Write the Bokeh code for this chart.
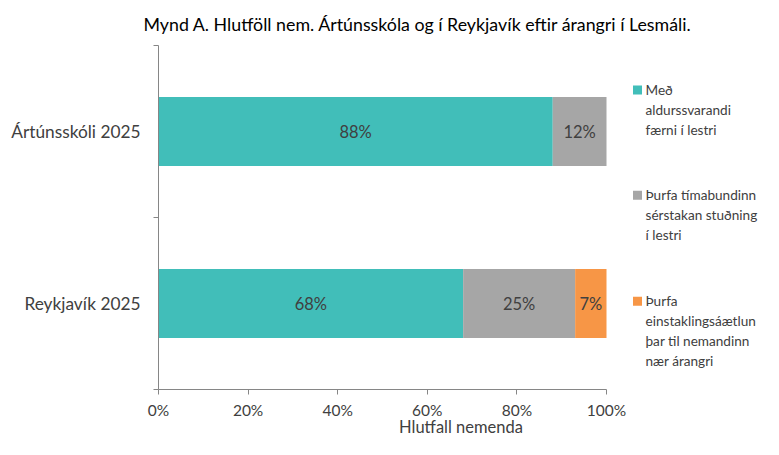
from bokeh.plotting import figure
from bokeh.models import ColumnDataSource, Range1d, FixedTicker, PrintfTickFormatter
from bokeh.core.properties import value
from bokeh.embed import file_html
from bokeh.resources import INLINE

# ---- data ----
title_text = "Mynd A. Hlutföll nem. Ártúnsskóla og í Reykjavík eftir árangri í Lesmáli."
categories = ["Ártúnsskóli 2025", "Reykjavík 2025"]
series_names = [
    "Með\naldurssvarandi\nfærni í lestri",
    "Þurfa tímabundinn\nsérstakan stuðning\ní lestri",
    "Þurfa\neinstaklingsáætlun\nþar til nemandinn\nnær árangri",
]
with_skills = [88, 68]
temporary_support = [12, 25]
individual_plan = [0, 7]
x_ticks = [0, 20, 40, 60, 80, 100]
x_label = "Hlutfall nemenda"
colors = ["#41BEB9", "#A6A6A6", "#F79646"]

FONT = "Lato"
TEXT = "#404040"
AXIS = "#868686"

# ---- layout (pixels) ----
W, H = 763, 439
LEFT, TOP = 158, 42
FRAME_W = 448                      # 0..100 %
FRAME_H = 347                      # 0..2 categories
BOTTOM = H - TOP - FRAME_H
PX_X = FRAME_W / 100.0
PX_Y = FRAME_H / 2.0
X_END = 100 + (W - LEFT - FRAME_W) / PX_X

n = len(categories)
ypos = [n - i - 0.5 for i in range(n)]
series = [with_skills, temporary_support, individual_plan]
keys = ["s0", "s1", "s2"]

src = ColumnDataSource(dict(y=ypos, cat=categories, **{k: v for k, v in zip(keys, series)}))

p = figure(width=W, height=H, output_backend="svg", toolbar_location=None,
           x_range=Range1d(0, X_END), y_range=Range1d(0, n),
           min_border_left=LEFT, min_border_right=0,
           min_border_top=TOP, min_border_bottom=BOTTOM,
           background_fill_color="white", border_fill_color="white",
           outline_line_color=None)
p.grid.visible = False

p.hbar_stack(keys, y="y", height=0.4, color=colors, line_color=None, source=src)

# value labels
lx, ly, lt = [], [], []
for i in range(n):
    cum = 0
    for s in series:
        v = s[i]
        if v > 0:
            lx.append(cum + v / 2.0)
            ly.append(ypos[i])
            lt.append(f"{v}%")
        cum += v
p.text(x=lx, y=ly, text=lt, text_align="center", text_baseline="middle",
       text_font=value(FONT), text_font_size="16.5px", text_color=TEXT)

# legend (drawn manually, right of the bars)
def y_from_px(py):
    return n - (py - TOP) / PX_Y

def x_from_px(px):
    return (px - LEFT) / PX_X

first_lines = [87, 193, 300]
LINE = 20
sq_x, sq_y, tx, ty, tt = [], [], [], [], []
for name, py in zip(series_names, first_lines):
    sq_x.append(x_from_px(637))
    sq_y.append(y_from_px(py))
    for j, line in enumerate(name.split("\n")):
        tx.append(x_from_px(645))
        ty.append(y_from_px(py + j * LINE))
        tt.append(line)
p.scatter(x=sq_x, y=sq_y, marker="square", size=9, color=colors, line_color=None)
p.text(x=tx, y=ty, text=tt, text_align="left", text_baseline="middle",
       text_font=value(FONT), text_font_size="13.6px", text_color=TEXT)

# title
p.title.text = title_text
p.title.align = "left"
p.title.offset = -15
p.title.text_font = FONT
p.title.text_font_size = "17.8px"
p.title.text_font_style = "normal"
p.title.text_color = "#000000"
p.title.standoff = 21

# x axis
xa = p.xaxis[0]
xa.ticker = FixedTicker(ticks=x_ticks, minor_ticks=[])
xa.bounds = (0, 100)
xa.formatter = PrintfTickFormatter(format="%d%%")
xa.axis_line_color = AXIS
xa.major_tick_line_color = AXIS
xa.major_tick_out = 5
xa.major_tick_in = 0
xa.minor_tick_line_color = None
xa.major_label_standoff = 6
xa.major_label_text_font = FONT
xa.major_label_text_font_size = "15.5px"
xa.major_label_text_color = TEXT
xa.axis_label = x_label
xa.axis_label_standoff = -5
xa.axis_label_text_font = FONT
xa.axis_label_text_font_size = "16.5px"
xa.axis_label_text_font_style = "normal"
xa.axis_label_text_color = TEXT

# y axis: labels at category centres, ticks at category boundaries
ya = p.yaxis[0]
ya.ticker = FixedTicker(ticks=ypos, minor_ticks=list(range(n + 1)))
ya.major_label_overrides = {y: c for y, c in zip(ypos, categories)}
ya.axis_line_color = AXIS
ya.major_tick_line_color = None
ya.major_tick_out = 5
ya.major_tick_in = 0
ya.minor_tick_line_color = AXIS
ya.minor_tick_out = 5
ya.minor_tick_in = 0
ya.major_label_standoff = 13
ya.major_label_text_font = FONT
ya.major_label_text_font_size = "17.3px"
ya.major_label_text_color = TEXT

open("out.html", "w").write(file_html(p, INLINE))
